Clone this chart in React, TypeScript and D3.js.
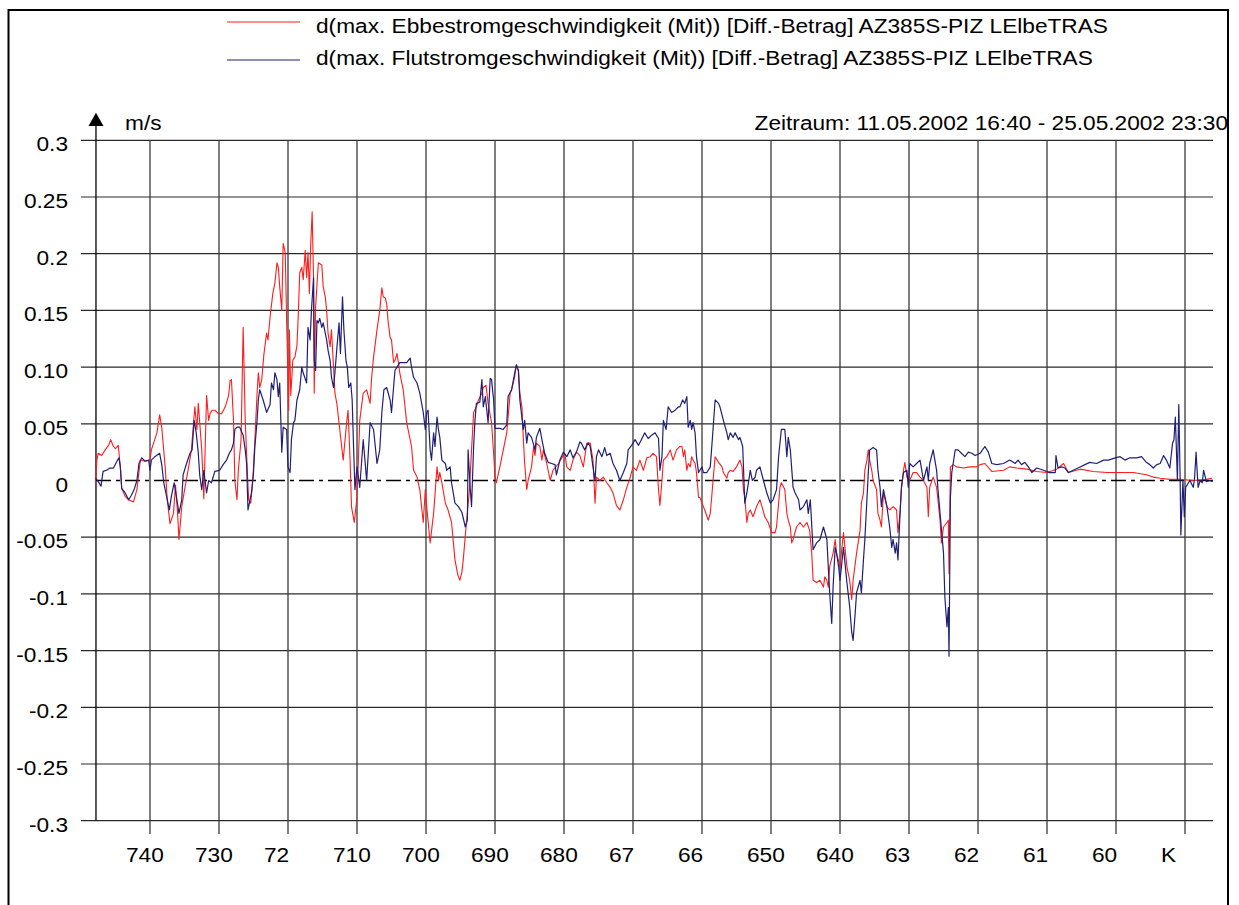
import React from "react";
import * as d3 from "d3";

const kmTicks = [740, 730, 720, 710, 700, 690, 680, 670, 660, 650, 640, 630, 620, 610, 600, 590];
const kmLabels = ["740", "730", "72", "710", "700", "690", "680", "67", "66", "650", "640", "63", "62", "61", "60", "K"];
const yTicks = [0.3, 0.25, 0.2, 0.15, 0.1, 0.05, 0, -0.05, -0.1, -0.15, -0.2, -0.25, -0.3];
const yLabels = ["0.3", "0.25", "0.2", "0.15", "0.10", "0.05", "0", "-0.05", "-0.1", "-0.15", "-0.2", "-0.25", "-0.3"];
const kmRange = [747.83, 585.94];
const seriesNames = [
  "d(max. Ebbestromgeschwindigkeit (Mit)) [Diff.-Betrag] AZ385S-PIZ LElbeTRAS",
  "d(max. Flutstromgeschwindigkeit (Mit)) [Diff.-Betrag] AZ385S-PIZ LElbeTRAS",
];
const periodText = "Zeitraum: 11.05.2002 16:40 - 25.05.2002 23:30";
const unitText = "m/s";

// Ebbestrom (red): [km, m/s]
const ebbe: [number, number][] = [
[747.9,-0.002],[747.7,0.018],[747.5,0.024],[747.0,0.022],[746.5,0.027],[746.0,0.031],[745.7,0.036],[745.3,0.030],[745.0,0.028],[744.6,0.031],[744.3,0.012],[744.1,-0.007],[743.6,-0.014],[743.1,-0.017],[742.4,-0.019],[741.9,-0.008],[741.4,0.018],[740.7,0.017],[740.0,0.018],[739.8,0.027],[739.0,0.042],[738.6,0.058],[738.3,0.047],[737.8,0.012],[737.5,-0.017],[737.1,-0.038],[736.6,-0.029],[736.3,-0.004],[736.0,-0.029],[735.8,-0.052],[735.4,-0.023],[734.9,-0.005],[734.4,0.012],[734.0,0.027],[733.5,0.065],[733.2,0.045],[733.0,0.068],[732.5,0.027],[732.2,-0.016],[731.8,0.075],[731.5,0.053],[731.3,0.059],[731.0,0.062],[730.6,0.062],[730.1,0.059],[729.6,0.059],[729.1,0.065],[728.6,0.075],[728.4,0.088],[728.2,0.089],[727.9,0.053],[727.7,0.000],[727.4,-0.017],[727.2,0.009],[726.8,0.036],[726.5,0.135],[726.2,0.053],[725.9,0.009],[725.7,-0.017],[725.4,-0.020],[725.1,0.000],[724.8,0.036],[724.5,0.075],[724.3,0.095],[724.1,0.082],[723.8,0.089],[723.5,0.111],[723.1,0.130],[722.9,0.124],[722.6,0.144],[722.2,0.165],[721.9,0.174],[721.6,0.192],[721.4,0.188],[721.2,0.171],[720.9,0.150],[720.7,0.209],[720.4,0.201],[720.2,0.141],[719.9,0.062],[719.8,0.133],[719.6,0.075],[719.3,0.106],[719.0,0.109],[718.7,0.119],[718.5,0.148],[718.3,0.183],[718.0,0.188],[717.8,0.177],[717.5,0.203],[717.3,0.179],[717.1,0.201],[716.9,0.165],[716.7,0.209],[716.5,0.237],[716.3,0.179],[716.2,0.077],[716.0,0.153],[715.6,0.192],[715.1,0.190],[714.9,0.171],[714.6,0.162],[714.4,0.150],[714.2,0.130],[713.9,0.118],[713.7,0.133],[713.4,0.100],[713.2,0.077],[712.9,0.067],[712.5,0.045],[712.0,0.018],[711.5,0.051],[711.3,0.062],[711.0,0.018],[710.8,-0.023],[710.4,-0.037],[710.0,-0.015],[709.8,0.018],[709.6,0.053],[709.1,0.077],[708.6,0.080],[708.1,0.068],[707.9,0.089],[707.6,0.109],[707.1,0.133],[706.7,0.150],[706.4,0.170],[706.2,0.162],[705.9,0.161],[705.7,0.156],[705.5,0.141],[705.2,0.126],[705.0,0.124],[704.7,0.104],[704.5,0.106],[704.2,0.112],[704.0,0.104],[703.8,0.095],[703.3,0.080],[702.8,0.051],[702.3,0.036],[702.1,0.030],[701.8,0.009],[701.3,0.003],[700.9,-0.008],[700.4,-0.037],[700.1,-0.008],[699.9,-0.023],[699.4,-0.055],[698.9,-0.029],[698.4,0.012],[698.2,0.000],[698.0,0.007],[697.7,-0.002],[697.2,-0.020],[696.8,-0.026],[696.3,-0.037],[695.8,-0.070],[695.4,-0.083],[695.1,-0.088],[694.8,-0.081],[694.6,-0.070],[694.2,-0.041],[693.7,-0.008],[693.4,0.027],[693.1,0.060],[692.7,0.065],[692.4,0.071],[691.9,0.077],[691.7,0.082],[691.3,0.084],[691.0,0.068],[690.5,0.051],[690.2,0.024],[690.0,0.003],[689.8,-0.002],[689.3,0.012],[688.8,0.027],[688.3,0.042],[687.8,0.077],[687.6,0.080],[687.2,0.090],[686.9,0.102],[686.6,0.096],[686.4,0.077],[686.1,0.065],[685.9,0.038],[685.7,0.015],[685.4,-0.008],[685.2,0.000],[684.7,0.012],[684.4,0.030],[684.2,0.022],[684.0,0.033],[683.5,0.030],[683.2,0.018],[683.0,0.027],[682.5,0.015],[682.0,0.000],[681.6,0.009],[680.8,0.015],[680.3,0.020],[679.9,0.024],[679.6,0.012],[679.1,0.009],[678.7,0.018],[678.2,0.025],[677.7,0.022],[677.2,0.012],[676.7,0.033],[676.2,0.033],[675.8,0.018],[675.5,-0.020],[675.3,0.003],[674.8,0.000],[674.3,0.003],[673.8,-0.002],[673.3,-0.006],[672.9,-0.011],[672.4,-0.022],[671.9,-0.026],[671.4,-0.017],[670.9,-0.006],[670.4,0.003],[670.0,0.012],[669.5,0.009],[669.0,0.018],[668.5,0.009],[668.0,0.020],[667.5,0.021],[667.1,0.024],[666.6,0.021],[666.3,-0.008],[666.1,-0.022],[665.8,0.000],[665.6,0.018],[665.1,0.021],[664.6,0.027],[664.2,0.018],[663.7,0.027],[663.2,0.030],[662.9,0.030],[662.7,0.021],[662.5,0.027],[662.2,0.009],[662.0,0.015],[661.7,0.012],[661.5,0.021],[661.3,0.018],[661.0,0.015],[660.8,0.007],[660.5,-0.015],[660.3,-0.015],[660.0,-0.020],[659.8,-0.023],[659.6,-0.026],[659.1,-0.035],[658.8,-0.029],[658.6,-0.015],[658.4,0.000],[658.1,0.021],[657.6,0.016],[657.1,0.012],[656.9,0.007],[656.4,0.002],[656.2,0.007],[655.9,0.009],[655.5,0.008],[655.0,0.012],[654.5,0.018],[654.2,0.012],[654.0,-0.008],[653.8,-0.015],[653.5,-0.037],[653.3,-0.029],[653.0,-0.026],[652.6,-0.032],[652.1,-0.023],[651.6,-0.017],[651.3,-0.023],[650.9,-0.032],[650.4,-0.037],[649.9,-0.046],[649.4,-0.046],[649.2,-0.041],[648.7,-0.006],[648.5,-0.002],[648.0,-0.008],[647.7,-0.029],[647.5,-0.035],[647.2,-0.041],[647.0,-0.055],[646.8,-0.052],[646.3,-0.041],[645.8,-0.037],[645.3,-0.041],[644.8,-0.037],[644.4,-0.044],[644.1,-0.064],[643.9,-0.088],[643.4,-0.090],[642.9,-0.088],[642.4,-0.094],[642.2,-0.085],[641.9,-0.088],[641.7,-0.094],[641.5,-0.076],[641.0,-0.064],[640.7,-0.052],[640.5,-0.064],[640.0,-0.076],[639.5,-0.046],[639.0,-0.076],[638.6,-0.088],[638.3,-0.105],[638.1,-0.088],[637.6,-0.064],[637.1,-0.044],[636.9,-0.020],[636.6,-0.011],[636.4,0.009],[636.1,0.018],[635.9,0.027],[635.7,0.018],[635.4,0.009],[635.2,0.000],[634.7,-0.008],[634.5,-0.029],[634.2,-0.035],[634.0,-0.041],[633.7,-0.011],[633.2,-0.023],[632.8,-0.026],[632.3,-0.023],[631.8,-0.026],[631.6,-0.046],[631.3,-0.029],[631.1,-0.008],[630.8,0.009],[630.6,0.016],[630.3,0.003],[629.9,0.000],[629.4,0.007],[628.9,0.007],[628.4,0.003],[627.9,0.000],[627.4,-0.006],[627.2,-0.032],[627.0,-0.006],[626.5,0.003],[626.0,-0.006],[625.5,-0.035],[625.3,-0.055],[625.0,-0.041],[624.5,-0.037],[624.3,-0.035],[624.2,-0.082],[624.0,0.012],[623.6,0.014],[623.1,0.012],[622.1,0.011],[621.2,0.012],[620.2,0.012],[619.7,0.014],[619.0,0.015],[618.0,0.008],[616.3,0.009],[615.4,0.012],[614.4,0.011],[612.9,0.010],[611.5,0.008],[610.0,0.007],[608.6,0.010],[607.6,0.015],[606.9,0.007],[605.2,0.010],[603.3,0.008],[601.3,0.007],[599.4,0.007],[597.5,0.007],[595.6,0.005],[594.6,0.003],[593.6,0.002],[592.2,0.001],[590.7,0.001],[588.8,0.000],[586.9,0.001],[586.1,0.002]
];

// Flutstrom (blue): [km, m/s]
const flut: [number, number][] = [
[747.9,0.002],[747.5,-0.001],[747.1,-0.005],[746.8,0.008],[746.3,0.009],[745.8,0.011],[745.3,0.011],[744.8,0.017],[744.5,0.020],[744.3,0.012],[744.1,-0.007],[743.6,-0.011],[743.1,-0.017],[742.7,-0.013],[742.3,-0.008],[741.9,0.000],[741.6,0.015],[741.2,0.020],[740.7,0.017],[740.2,0.018],[740.0,0.009],[739.8,0.018],[739.3,0.021],[738.6,0.024],[738.3,0.014],[738.0,-0.002],[737.7,-0.011],[737.2,-0.026],[736.9,-0.014],[736.5,-0.002],[736.1,-0.017],[735.8,-0.029],[735.4,-0.017],[735.2,0.005],[734.7,0.015],[734.2,0.024],[733.9,0.027],[733.6,0.053],[733.3,0.042],[733.0,0.024],[732.8,0.005],[732.5,-0.008],[732.2,0.009],[731.8,-0.011],[731.5,0.000],[731.1,-0.002],[730.6,0.008],[729.9,0.009],[729.4,0.014],[728.9,0.018],[728.5,0.024],
[728.2,0.027],[727.9,0.033],[727.7,0.045],[727.4,0.047],[727.0,0.047],[726.5,0.040],[726.2,0.027],[726.0,0.015],[725.8,-0.026],[725.5,-0.017],[725.3,-0.011],[725.0,0.007],[724.8,0.030],[724.5,0.051],[724.3,0.071],[724.1,0.080],[723.6,0.071],[723.1,0.060],[722.6,0.067],[722.4,0.086],[722.1,0.080],[721.9,0.095],[721.6,0.089],[721.4,0.074],[721.2,0.086],[720.9,0.025],[720.7,0.047],[720.2,0.045],[720.0,0.012],[719.7,0.007],[719.5,0.036],[719.2,0.051],[719.0,0.053],[718.7,0.071],[718.3,0.080],[718.0,0.100],[717.8,0.095],[717.3,0.086],[717.1,0.135],[716.8,0.124],[716.6,0.150],[716.3,0.179],[716.2,0.106],[716.0,0.097],[715.8,0.141],[715.6,0.139],[715.4,0.143],[715.1,0.135],[714.9,0.139],[714.6,0.130],[714.4,0.124],[714.2,0.115],[713.9,0.106],[713.7,0.091],[713.4,0.082],[713.2,0.095],[712.9,0.118],[712.6,0.139],[712.4,0.112],[712.1,0.162],[711.9,0.133],[711.6,0.106],[711.4,0.100],[711.2,0.082],[710.9,0.086],[710.7,0.071],[710.5,0.030],[710.3,-0.008],[710.0,0.012],[709.6,-0.006],[709.1,0.036],[708.6,0.000],[708.1,0.051],[707.6,0.045],[707.1,0.015],[706.7,0.027],[706.4,0.060],[706.1,0.080],[705.7,0.082],[705.2,0.071],[705.0,0.060],[704.7,0.082],[704.5,0.097],[704.2,0.100],[703.8,0.104],[703.3,0.104],[702.8,0.104],[702.3,0.108],[702.1,0.100],[701.8,0.091],[701.3,0.086],[700.9,0.077],[700.4,0.060],[700.1,0.045],[699.9,0.060],[699.7,0.062],[699.4,0.027],[699.2,0.018],[698.9,0.042],[698.7,0.030],[698.4,0.056],[698.2,0.045],[698.0,0.038],[697.7,0.018],[697.2,0.015],[697.0,0.009],[696.5,0.012],[696.3,-0.002],[695.8,-0.020],[695.3,-0.023],[694.8,-0.028],[694.3,-0.041],[694.0,-0.035],[693.9,0.027],[693.6,-0.006],[693.4,-0.023],[693.1,0.030],[692.9,0.053],[692.7,0.068],[692.2,0.069],[691.9,0.089],[691.7,0.065],[691.4,0.074],[691.0,0.051],[690.7,0.090],[690.5,0.089],[690.2,0.071],[690.0,0.046],[689.3,0.046],[688.8,0.045],[688.3,0.049],[688.1,0.074],[687.6,0.080],[687.2,0.093],[686.9,0.102],[686.6,0.097],[686.4,0.071],[685.9,0.045],[685.7,0.053],[685.4,0.033],[685.2,0.042],[684.7,0.038],[684.2,0.027],[684.0,0.038],[683.5,0.046],[683.2,0.036],[682.8,0.024],[682.3,0.016],[681.8,0.015],[681.3,0.014],[681.1,0.005],[680.6,0.018],[680.1,0.025],[679.6,0.021],[679.1,0.027],[678.7,0.020],[678.2,0.025],[677.7,0.034],[677.5,0.033],[677.0,0.027],[676.5,0.033],[676.2,0.030],[675.8,0.012],[675.5,0.000],[675.3,0.021],[675.0,0.027],[674.5,0.021],[674.1,0.029],[673.8,0.022],[673.3,0.024],[672.9,0.015],[672.4,0.009],[671.9,0.000],[671.4,0.007],[670.9,0.015],[670.7,0.027],[670.2,0.031],[669.7,0.036],[669.2,0.031],[668.7,0.037],[668.3,0.042],[667.8,0.037],[667.3,0.040],[666.8,0.042],[666.3,0.037],[666.1,0.009],[665.8,0.021],[665.6,0.053],[665.2,0.045],[664.9,0.065],[664.4,0.060],[663.9,0.062],[663.4,0.065],[663.2,0.065],[662.8,0.071],[662.5,0.068],[662.2,0.074],[662.0,0.047],[661.7,0.053],[661.5,0.045],[661.3,0.051],[661.0,0.042],[660.8,0.021],[660.5,0.007],[660.3,0.009],[660.0,0.012],[659.8,0.007],[659.3,0.007],[658.8,0.012],[658.4,0.045],[658.1,0.071],[657.6,0.068],[657.4,0.065],[656.9,0.053],[656.4,0.042],[656.2,0.036],[655.9,0.042],[655.5,0.038],[655.2,0.042],[654.7,0.036],[654.5,0.038],[654.1,0.030],[653.8,-0.020],[653.5,-0.011],[653.0,0.009],[652.7,0.000],[652.3,0.003],[652.1,0.009],[651.6,0.012],[651.1,0.000],[650.6,-0.011],[650.1,-0.020],[649.7,-0.017],[649.2,-0.008],[648.9,0.021],[648.5,0.045],[648.0,0.045],[647.7,0.021],[647.5,0.038],[647.2,0.027],[646.8,-0.006],[646.5,-0.011],[646.0,-0.017],[645.8,-0.026],[645.3,-0.023],[644.8,-0.017],[644.6,-0.029],[644.3,-0.017],[643.9,-0.061],[643.4,-0.055],[642.9,-0.052],[642.4,-0.041],[641.9,-0.052],[641.7,-0.076],[641.5,-0.099],[641.2,-0.126],[641.0,-0.094],[640.7,-0.059],[640.5,-0.064],[640.2,-0.076],[640.0,-0.088],[639.5,-0.059],[639.0,-0.090],[638.6,-0.111],[638.3,-0.134],[638.1,-0.141],[637.8,-0.117],[637.6,-0.099],[637.1,-0.088],[636.9,-0.099],[636.6,-0.070],[636.4,-0.052],[636.1,-0.017],[635.9,0.007],[635.7,0.027],[635.2,0.029],[634.7,0.027],[634.5,0.009],[634.2,-0.006],[634.0,-0.023],[633.7,-0.008],[633.2,-0.023],[632.8,-0.041],[632.5,-0.059],[632.3,-0.052],[632.0,-0.064],[631.8,-0.055],[631.6,-0.070],[631.3,-0.029],[631.1,-0.006],[630.8,0.007],[630.3,0.009],[630.1,-0.006],[629.9,0.015],[629.4,0.012],[628.9,0.015],[628.4,0.018],[627.9,0.000],[627.4,0.012],[627.2,0.000],[627.0,0.015],[626.5,0.027],[626.0,0.009],[625.8,-0.008],[625.5,-0.029],[625.0,-0.064],[624.8,-0.103],[624.5,-0.129],[624.3,-0.112],[624.2,-0.155],[624.0,-0.015],[623.8,0.007],[623.6,0.015],[623.3,0.027],[622.9,0.027],[622.4,0.024],[621.9,0.021],[621.4,0.025],[620.9,0.024],[620.4,0.022],[619.7,0.024],[619.0,0.030],[618.5,0.025],[618.0,0.015],[617.3,0.014],[616.3,0.015],[615.4,0.018],[614.6,0.015],[614.2,0.018],[613.7,0.014],[613.2,0.016],[612.7,0.012],[612.2,0.007],[611.5,0.011],[610.5,0.009],[609.6,0.007],[608.8,0.007],[608.7,0.022],[608.4,0.011],[607.9,0.012],[607.4,0.011],[606.9,0.007],[606.2,0.009],[605.5,0.011],[604.5,0.014],[603.8,0.016],[602.8,0.015],[601.8,0.018],[601.1,0.018],[600.1,0.020],[599.4,0.021],[598.7,0.018],[598.0,0.020],[597.0,0.020],[596.3,0.021],[595.6,0.016],[595.1,0.014],[594.6,0.011],[594.1,0.014],[593.6,0.015],[593.1,0.022],[592.7,0.018],[592.2,0.011],[591.8,0.033],[591.6,0.036],[591.4,0.056],[591.1,0.000],[590.9,0.067],[590.7,0.000],[590.6,-0.048],[590.3,0.000],[590.1,-0.032],[589.9,-0.006],[589.5,-0.002],[589.3,0.000],[588.8,-0.006],[588.6,0.003],[588.4,0.025],[588.1,-0.006],[587.8,0.000],[587.5,-0.002],[587.3,0.009],[586.9,-0.001],[586.4,0.000],[586.0,-0.001]
];

const RED = "#ff1c1c";
const BLUE = "#1f1f78";
const FONT = "'Liberation Sans', Arial, Helvetica, sans-serif";
const STRETCH = 1.08;

export default function App() {
  const W = 1239, H = 905;
  const x = d3.scaleLinear().domain([740, 590]).range([150, 1185]);
  const y = d3.scaleLinear().domain([-0.3, 0.3]).range([820.7, 140.3]);
  const xl = x(kmRange[0]);
  const xr = x(kmRange[1]);
  const line = d3.line<[number, number]>().x((d) => x(d[0])).y((d) => y(d[1]));
  const legendY = [22, 60];
  const legendBase = [33, 65];

  return (
    <svg width={W} height={H} style={{ position: "absolute", left: 0, top: 0, background: "#fff" }} fontFamily={FONT}>
      <rect x={0} y={0} width={W} height={H} fill="#fff" />
      <rect x={8.5} y={10} width={1219.5} height={920} fill="none" stroke="#000" strokeWidth={2} />

      {/* legend */}
      {seriesNames.map((name, i) => (
        <g key={name}>
          <line x1={227} x2={300} y1={legendY[i]} y2={legendY[i]} stroke={i === 0 ? RED : BLUE} strokeWidth={1.2} />
          <text transform={`translate(316,${legendBase[i]}) scale(${STRETCH},1)`} fontSize={21} fill="#000">{name}</text>
        </g>
      ))}
      <text transform={`translate(1228,130) scale(${STRETCH},1)`} fontSize={21} textAnchor="end" fill="#000">{periodText}</text>

      {/* horizontal grid */}
      {yTicks.map((t, i) =>
        t === 0 ? null : (
          <line key={"h" + i} x1={81} x2={xr} y1={y(t)} y2={y(t)} stroke="#2a2a2a" strokeWidth={1.2} />
        )
      )}
      {/* vertical grid */}
      {kmTicks.map((k) => (
        <line key={"v" + k} x1={x(k)} x2={x(k)} y1={y(0.3)} y2={834} stroke="#3a3a3a" strokeWidth={1.3} />
      ))}
      {/* y axis */}
      <line x1={xl} x2={xl} y1={124} y2={y(-0.3)} stroke="#000" strokeWidth={1.3} />
      <path d={`M${xl},112.7 L${xl - 7.5},126 L${xl + 7.5},126 Z`} fill="#000" />
      <text transform={`translate(125,130) scale(${STRETCH},1)`} fontSize={21} fill="#000">{unitText}</text>

      {/* zero line */}
      <line x1={xl} x2={xr} y1={y(0)} y2={y(0)} stroke="#000" strokeWidth={1.6} strokeDasharray="15 5 4 5" />

      {/* y labels */}
      {yTicks.map((t, i) => (
        <text key={"yl" + i} transform={`translate(68,${y(t) + 11}) scale(${STRETCH},1)`} fontSize={21} textAnchor="end" fill="#000">{yLabels[i]}</text>
      ))}
      {/* x labels */}
      {kmTicks.map((k, i) => (
        <text key={"xl" + k} transform={`translate(${x(k) - 24},862) scale(${STRETCH},1)`} fontSize={21} fill="#000">{kmLabels[i]}</text>
      ))}

      <path d={line(ebbe) || ""} fill="none" stroke={RED} strokeWidth={1.1} strokeLinejoin="round" />
      <path d={line(flut) || ""} fill="none" stroke={BLUE} strokeWidth={1.2} strokeLinejoin="round" />
    </svg>
  );
}
